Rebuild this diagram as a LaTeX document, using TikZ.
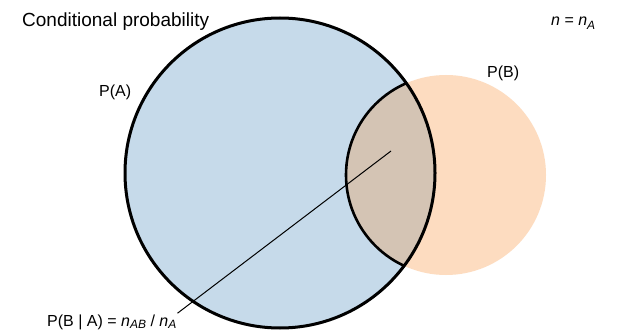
\documentclass[tikz,border=0pt]{standalone}
\usepackage{fontspec}
\setmainfont{Liberation Sans}
\definecolor{setA}{HTML}{C6DAEA}
\definecolor{setB}{HTML}{FDDCC0}
\definecolor{setAB}{HTML}{D4C4B4}
\begin{document}
\begin{tikzpicture}[x=1pt,y=-1pt,
  lbl/.style={anchor=base west,inner sep=0pt,font=\fontsize{16}{18}\selectfont}]
\useasboundingbox (0,0) rectangle (618,331);
\fill[white] (0,0) rectangle (618,331);
% circles
\coordinate (cA) at (280,173);
\coordinate (cB) at (446,175);
\fill[setB] (cB) circle (100);
\fill[setA] (cA) circle (155);
\begin{scope}
  \clip (cA) circle (155);
  \fill[setAB] (cB) circle (100);
  \draw[line width=2.6pt] (cB) circle (100);
\end{scope}
\draw[line width=3pt] (cA) circle (155);
% labels
\node[lbl,font=\fontsize{19}{22}\selectfont] (title) at (22,26.5) {Conditional probability};
\node[lbl] (pA) at (99,96.5) {P(A)};
\node[lbl] (pB) at (487,78) {P(B)};
\node[lbl] (nn) at (551,26) {\textit{n} = \textit{n}\raisebox{-0.4ex}{\fontsize{12}{14}\selectfont\textit{A}}};
\node[lbl] (pBA) at (47,326) {P(B | A) = \textit{n}\raisebox{-0.3ex}{\fontsize{12}{14}\selectfont\textit{AB}} / \textit{n}\raisebox{-0.3ex}{\fontsize{12}{14}\selectfont\textit{A}}};
\coordinate (lensPt) at (391,151);
\draw[line width=1pt] (lensPt) -- ([xshift=1pt,yshift=1pt]pBA.north east);
\end{tikzpicture}
\end{document}
